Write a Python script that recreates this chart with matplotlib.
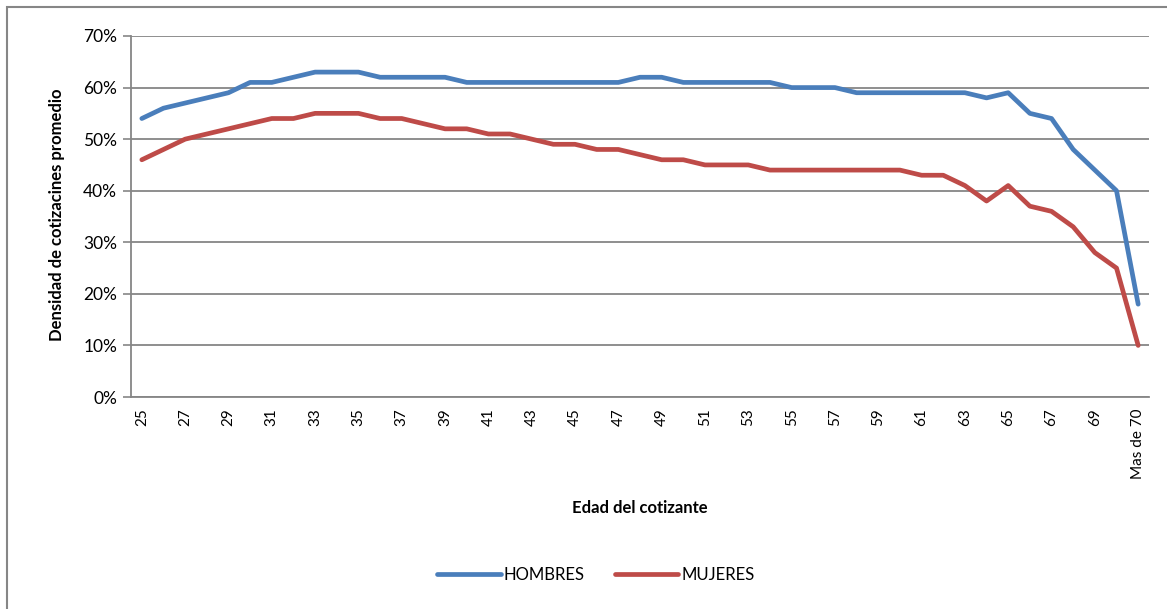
import matplotlib
matplotlib.use("Agg")
import matplotlib.pyplot as plt
from matplotlib.patches import Rectangle

ages = [str(a) for a in range(25, 71)] + ["Mas de 70"]
hombres = [54, 56, 57, 58, 59, 61, 61, 62, 63, 63, 63, 62, 62, 62, 62, 61, 61, 61, 61, 61,
           61, 61, 61, 62, 62, 61, 61, 61, 61, 61, 60, 60, 60, 59, 59, 59, 59, 59, 59, 58,
           59, 55, 54, 48, 44, 40, 18]
mujeres = [46, 48, 50, 51, 52, 53, 54, 54, 55, 55, 55, 54, 54, 53, 52, 52, 51, 51, 50, 49,
           49, 48, 48, 47, 46, 46, 45, 45, 45, 44, 44, 44, 44, 44, 44, 44, 43, 43, 41, 38,
           41, 37, 36, 33, 28, 25, 10]
yticks = [0, 10, 20, 30, 40, 50, 60, 70]

plt.rcParams['font.family'] = ['Lato', 'DejaVu Sans']

fig = plt.figure(figsize=(11.67, 6.09), dpi=100)
W, H = 1167, 609
ax = fig.add_axes([131 / W, 1 - 397 / H, (1149 - 131) / W, (397 - 36) / H])

x = list(range(len(ages)))
ax.plot(x, hombres, color="#4A7EBB", lw=3.4, label="HOMBRES", solid_capstyle="round")
ax.plot(x, mujeres, color="#BE4B48", lw=3.4, label="MUJERES", solid_capstyle="round")

ax.set_xlim(-0.5, len(ages) - 0.5)
ax.set_ylim(0, 70)
ax.set_yticks(yticks)
ax.set_yticklabels([f"{v}%" for v in yticks], fontsize=12.5, color="#000000")
ax.yaxis.grid(True, color="#868686", lw=1.3)
ax.set_axisbelow(True)
ax.tick_params(axis="y", length=6, width=1.2, color="#868686", pad=4)

tick_pos = x[::2]
ax.set_xticks(tick_pos)
ax.set_xticklabels([ages[i] for i in tick_pos], rotation=90, fontsize=11)
ax.tick_params(axis="x", length=0, pad=8)

for s in ["top", "right"]:
    ax.spines[s].set_visible(False)
ax.spines["left"].set_color("#868686")
ax.spines["left"].set_linewidth(1.3)
ax.spines["bottom"].set_color("#868686")
ax.spines["bottom"].set_linewidth(1.3)

fig.text(57 / W, 1 - 215 / H, "Densidad de cotizacines promedio", rotation=90,
         ha="center", va="center", fontsize=12, fontweight="bold")
fig.text(640 / W, 1 - 508 / H, "Edad del cotizante", ha="center", va="center",
         fontsize=12, fontweight="bold")

leg = fig.legend(loc="center", bbox_to_anchor=(596 / W, 1 - 575 / H), ncol=2,
                 frameon=False, fontsize=12, handlelength=3.8, handletextpad=0.2,
                 columnspacing=1.8)

fig.patches.append(Rectangle((7 / W, -0.1), 1.2, 1 - 7 / H + 0.1, transform=fig.transFigure,
                             fill=False, edgecolor="#868686", lw=1.5))

fig.savefig("out.png", dpi=100)
